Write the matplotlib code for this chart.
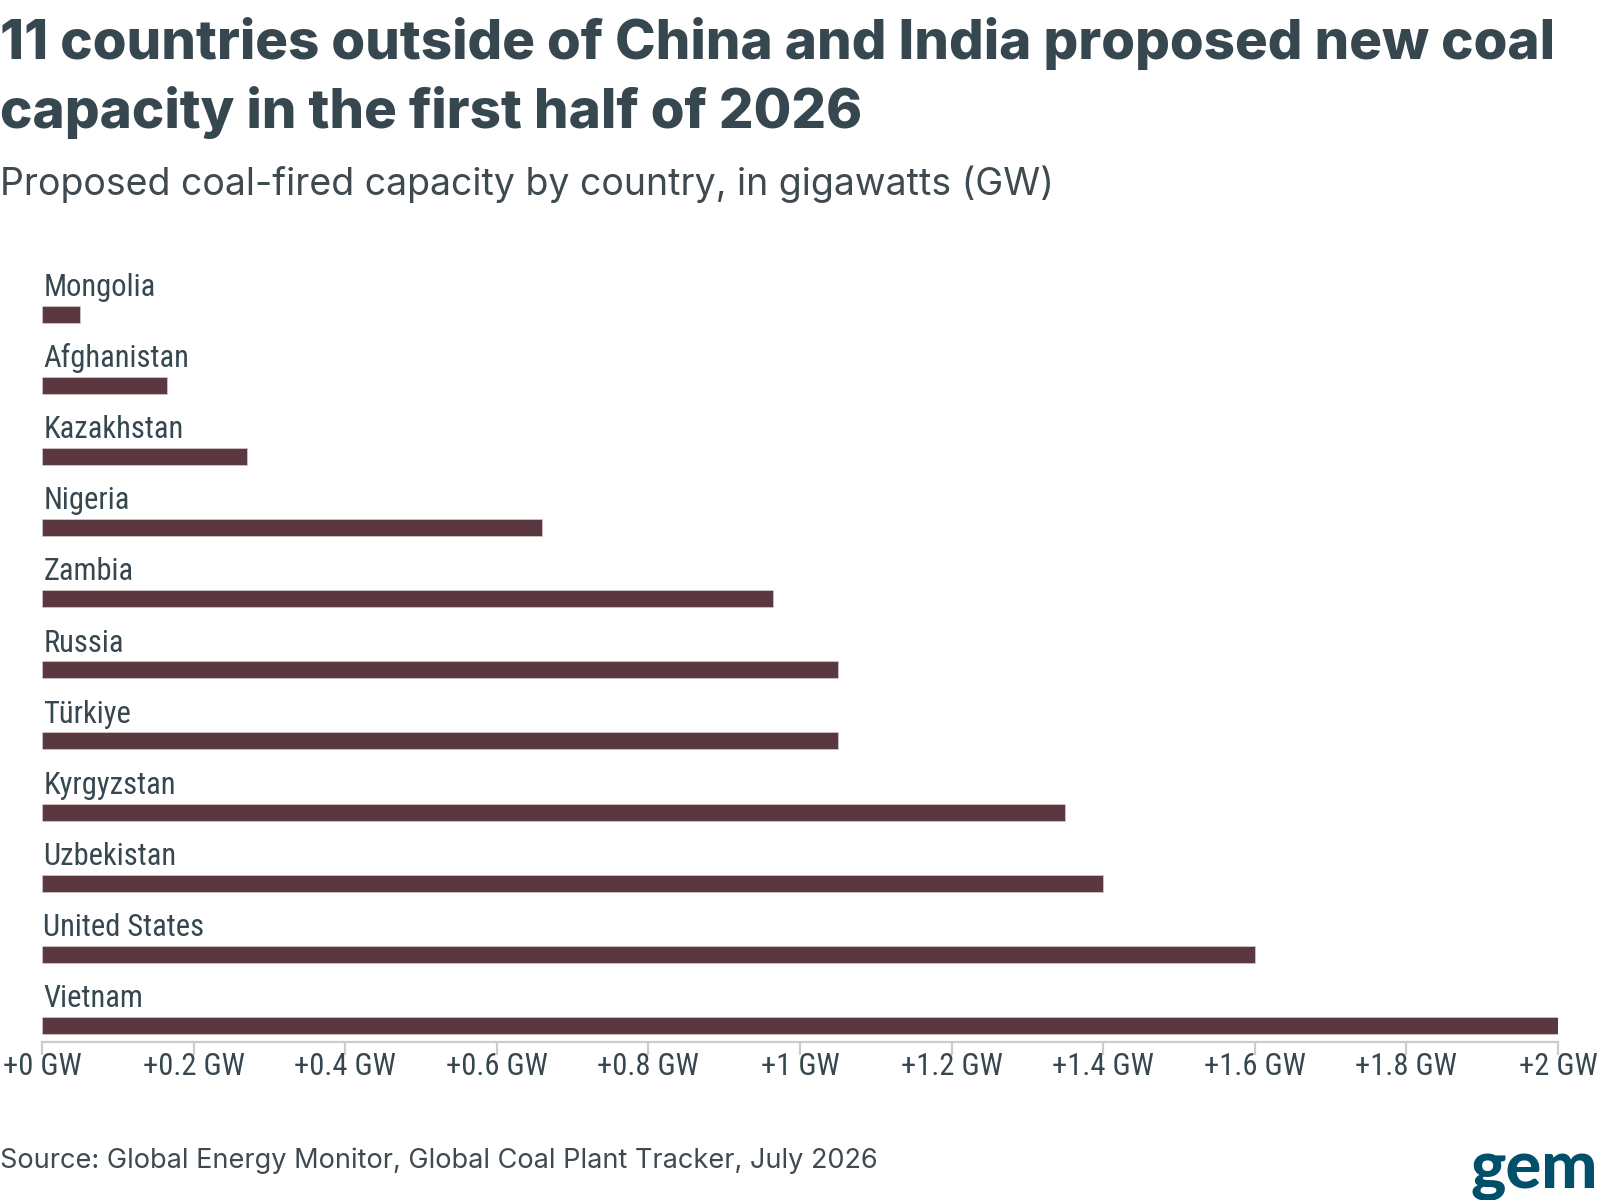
import numpy as np
import matplotlib.pyplot as plt

# data (top to bottom as shown)
countries = ["Mongolia", "Afghanistan", "Kazakhstan", "Nigeria", "Zambia", "Russia",
             "Türkiye", "Kyrgyzstan", "Uzbekistan", "United States", "Vietnam"]
capacity_gw = [0.05, 0.165, 0.27, 0.66, 0.965, 1.05, 1.05, 1.35, 1.40, 1.60, 2.0]
tick_vals = [0, 0.2, 0.4, 0.6, 0.8, 1.0, 1.2, 1.4, 1.6, 1.8, 2.0]
tick_labels = ["+0 GW", "+0.2 GW", "+0.4 GW", "+0.6 GW", "+0.8 GW", "+1 GW",
               "+1.2 GW", "+1.4 GW", "+1.6 GW", "+1.8 GW", "+2 GW"]

title_lines = ["11 countries outside of China and India proposed new coal",
               "capacity in the first half of 2026"]
subtitle = "Proposed coal-fired capacity by country, in gigawatts (GW)"
source = "Source: Global Energy Monitor, Global Coal Plant Tracker, July 2026"

TEXT = "#37474f"
BAR = "#5b3840"
GRID = "#cccccc"
NARROW = ["Roboto Condensed", "Liberation Sans Narrow", "Roboto"]
W, H = 1600, 1200

fig = plt.figure(figsize=(16, 12), dpi=100)
fig.patch.set_facecolor("white")


def fit_width(t, width_px):
    # scale the font so the rendered text spans width_px
    r = fig.canvas.get_renderer()
    w = t.get_window_extent(renderer=r).width
    t.set_fontsize(t.get_fontsize() * width_px / w)


def px(y):
    return 1 - y / H


# titles
t1 = fig.text(0, px(59), title_lines[0], fontsize=40, fontweight="heavy",
              family="Inter", color=TEXT, va="baseline", ha="left")
fit_width(t1, 1556)
t2 = fig.text(0, px(128), title_lines[1], fontsize=t1.get_fontsize(), fontweight="heavy",
              family="Inter", color=TEXT, va="baseline", ha="left")
st = fig.text(0, px(195), subtitle, fontsize=25, family="Inter",
              color="#3f4a50", va="baseline", ha="left")
fit_width(st, 1053)
src = fig.text(0, px(1168), source, fontsize=20, family="Inter",
               color="#3f4a50", va="baseline", ha="left")
fit_width(src, 877)
fig.text(1598 / W, px(1188), "gem", fontsize=48, family="Lato", fontweight="black",
         color="#00506b", va="baseline", ha="right")

# bars
n = len(countries)
ypos = np.arange(n)[::-1]
bar_h = 0.24
ax = fig.add_axes([42 / W, 1 - 1042 / H, (1558 - 42) / W, (1042 - 260) / H])
ax.barh(ypos, capacity_gw, height=bar_h, color=BAR, edgecolor="#cfc4c6",
        linewidth=0.6, left=0)

for name, y in zip(countries, ypos):
    ax.annotate(name, xy=(0, y + bar_h / 2), xytext=(1, 7), textcoords="offset points",
                fontsize=22, family=NARROW, color=TEXT,
                va="baseline", ha="left")

ax.set_xlim(0, 2)
ax.set_ylim(-0.232, 10.76)
ax.set_xticks(tick_vals)
ax.set_xticklabels(tick_labels, fontsize=22, family=NARROW, color=TEXT)
ax.set_yticks([])
for s in ["top", "right", "left"]:
    ax.spines[s].set_visible(False)
ax.spines["bottom"].set_color(GRID)
ax.spines["bottom"].set_linewidth(1.6)
ax.tick_params(axis="x", length=9, width=1.6, color=GRID, pad=-2)
ax.set_facecolor("white")

fig.savefig("out.png", dpi=100, facecolor="white")
